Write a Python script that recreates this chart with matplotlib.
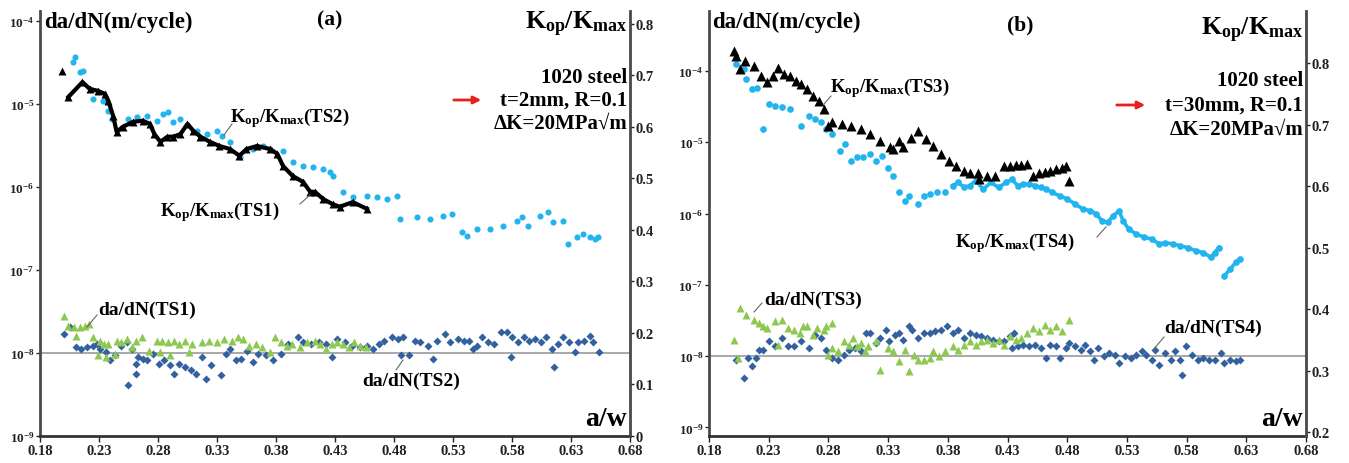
import matplotlib
matplotlib.use("Agg")
import matplotlib.pyplot as plt
import numpy as np
from matplotlib.lines import Line2D

plt.rcParams['font.family'] = ['Liberation Serif', 'DejaVu Serif']
plt.rcParams['font.weight'] = 'bold'
plt.rcParams['mathtext.fontset'] = 'custom'
plt.rcParams['mathtext.rm'] = 'Liberation Serif:bold'
plt.rcParams['mathtext.it'] = 'Liberation Serif:bold'
plt.rcParams['mathtext.bf'] = 'Liberation Serif:bold'
plt.rcParams['mathtext.default'] = 'bf'

# ---------------- panel (a) data ----------------
ts1_kop_x = [0.199, 0.204, 0.216, 0.222, 0.229, 0.235, 0.238, 0.242, 0.245, 0.250, 0.259, 0.267, 0.273,
             0.277, 0.282, 0.288, 0.293, 0.299, 0.305, 0.310, 0.316, 0.324, 0.332, 0.341, 0.349, 0.355,
             0.364, 0.375, 0.381, 0.386, 0.394, 0.403, 0.409, 0.413, 0.420, 0.428, 0.434, 0.445, 0.457]
ts1_kop_y = [0.709, 0.658, 0.687, 0.674, 0.670, 0.664, 0.650, 0.621, 0.590, 0.600, 0.610, 0.612, 0.606,
             0.586, 0.571, 0.581, 0.581, 0.586, 0.606, 0.592, 0.581, 0.571, 0.563, 0.557, 0.544, 0.557,
             0.563, 0.557, 0.548, 0.524, 0.505, 0.493, 0.474, 0.474, 0.460, 0.450, 0.445, 0.454, 0.441]

ts2_kop_x = [0.2097, 0.208, 0.2139, 0.2164, 0.2249, 0.2334, 0.2376, 0.2410, 0.2545, 0.2622, 0.2706, 0.2791,
             0.2842, 0.2884, 0.2927, 0.2986, 0.3130, 0.3215, 0.3299, 0.3342, 0.3409, 0.3494, 0.3604, 0.3689,
             0.3748, 0.3858, 0.3943, 0.4028, 0.4112, 0.4197, 0.4256, 0.4282, 0.4366, 0.4451, 0.4570, 0.4654,
             0.4739, 0.4824, 0.4849, 0.4993, 0.5103, 0.5213, 0.5290, 0.5374, 0.5417, 0.5501, 0.5612, 0.5722,
             0.5840, 0.5883, 0.5934, 0.6035, 0.6103, 0.6145, 0.6230, 0.6272, 0.6349, 0.6399, 0.6459, 0.6501,
             0.6526]
ts2_kop_y = [0.736, 0.726, 0.707, 0.709, 0.654, 0.650, 0.631, 0.616, 0.616, 0.619, 0.621, 0.612,
             0.625, 0.629, 0.610, 0.616, 0.592, 0.586, 0.592, 0.583, 0.571, 0.542, 0.557, 0.563,
             0.557, 0.553, 0.532, 0.524, 0.522, 0.518, 0.513, 0.505, 0.474, 0.464, 0.466, 0.464,
             0.460, 0.466, 0.421, 0.425, 0.421, 0.427, 0.431, 0.396, 0.388, 0.402, 0.402, 0.408,
             0.417, 0.425, 0.408, 0.427, 0.435, 0.416, 0.417, 0.373, 0.386, 0.392, 0.386, 0.382,
             0.386]

ts1_dadn_x = [0.2007, 0.204, 0.2087, 0.2135, 0.2183, 0.2215, 0.2103, 0.2247, 0.231, 0.2342, 0.2374, 0.2454,
              0.2294, 0.2358, 0.2438, 0.2486, 0.2534, 0.2614, 0.2661, 0.2582, 0.2725, 0.2789, 0.2837, 0.2885,
              0.2932, 0.298, 0.3028, 0.2821, 0.29, 0.306, 0.3092, 0.3172, 0.3236, 0.3299, 0.3363, 0.3427,
              0.3475, 0.3523, 0.357, 0.3634, 0.3682, 0.3746, 0.3794, 0.3842, 0.3889, 0.3937, 0.4001, 0.4065,
              0.4129, 0.4177, 0.4224, 0.4272, 0.432, 0.4368, 0.4416, 0.4464, 0.4512, 0.4559]
ts1_dadn_log = [-7.55, -7.67, -7.69, -7.69, -7.67, -7.65, -7.79, -7.81, -7.85, -7.89, -7.89, -7.85,
                -8.03, -8.05, -8.01, -7.87, -7.83, -7.85, -7.81, -7.93, -7.97, -7.85, -7.85, -7.87,
                -7.85, -7.89, -7.85, -7.99, -8.03, -7.99, -7.89, -7.87, -7.85, -7.87, -7.83, -7.85,
                -7.81, -7.83, -7.91, -7.89, -7.93, -7.99, -7.81, -7.87, -7.91, -7.89, -7.93, -7.87,
                -7.85, -7.89, -7.95, -7.89, -7.87, -7.89, -7.93, -7.87, -7.91, -7.93]

ts2_dadn_x = [0.2007, 0.2055, 0.2103, 0.2151, 0.2199, 0.2247, 0.2279, 0.231, 0.2358, 0.239, 0.2438, 0.2486,
              0.2534, 0.2582, 0.2614, 0.2629, 0.2677, 0.255, 0.2614, 0.2709, 0.2757, 0.2805, 0.2853, 0.29,
              0.2932, 0.298, 0.3028, 0.3076, 0.3124, 0.3172, 0.3204, 0.3252, 0.3331, 0.3379, 0.3411, 0.3459,
              0.3507, 0.3555, 0.3602, 0.365, 0.3714, 0.3778, 0.3842, 0.3905, 0.3985, 0.4033, 0.4097, 0.4161,
              0.4224, 0.4272, 0.432, 0.4384, 0.4448, 0.4512, 0.4575, 0.4623, 0.4671, 0.4719, 0.4783, 0.483,
              0.4878, 0.4862, 0.4926, 0.4974, 0.5022, 0.5086, 0.5134, 0.5166, 0.5229, 0.5277, 0.5341, 0.5389,
              0.5437, 0.5469, 0.55, 0.5548, 0.5596, 0.5644, 0.5708, 0.5756, 0.5804, 0.5788, 0.5851, 0.5899,
              0.5947, 0.5995, 0.6043, 0.6091, 0.6139, 0.6155, 0.6186, 0.6234, 0.6282, 0.633, 0.6362, 0.641,
              0.6457, 0.6489, 0.6537]
ts2_dadn_log = [-7.77, -7.69, -7.93, -7.95, -7.93, -7.91, -7.89, -7.95, -7.99, -8.09, -8.03, -7.91,
                -7.87, -7.95, -8.13, -8.05, -8.07, -8.39, -8.25, -8.09, -8.01, -8.13, -8.09, -8.15,
                -8.25, -8.13, -8.17, -8.21, -8.25, -8.05, -8.31, -8.15, -8.27, -8.01, -7.95, -8.09,
                -8.07, -7.97, -8.11, -8.01, -8.03, -8.09, -8.01, -7.89, -7.81, -7.87, -7.89, -7.87,
                -7.89, -8.05, -7.83, -7.87, -7.91, -7.93, -7.91, -7.95, -7.89, -7.85, -7.81, -7.83,
                -7.81, -8.03, -8.03, -7.85, -7.87, -7.91, -8.07, -7.85, -7.77, -7.87, -7.83, -7.85,
                -7.85, -7.95, -7.91, -7.81, -7.87, -7.89, -7.75, -7.75, -7.81, -8.05, -7.87, -7.81,
                -7.85, -7.83, -7.87, -7.81, -7.95, -8.17, -7.89, -7.81, -7.87, -7.99, -7.87, -7.85,
                -7.79, -7.87, -7.99]

# ---------------- panel (b) data ----------------
ts3_kop_x = [0.2013, 0.203, 0.2062, 0.2103, 0.2174, 0.2238, 0.2286, 0.2334, 0.2382, 0.243, 0.2478, 0.2526,
             0.2574, 0.2622, 0.267, 0.2719, 0.2767, 0.2799, 0.2831, 0.2911, 0.2991, 0.3071, 0.3151, 0.3231,
             0.3312, 0.3344, 0.3392, 0.3424, 0.3488, 0.3552, 0.3616, 0.368, 0.3744, 0.3808, 0.3872, 0.3936,
             0.3985, 0.4049, 0.4065, 0.4129, 0.4193, 0.4273, 0.4321, 0.4369, 0.4417, 0.4465, 0.4513, 0.4561,
             0.461, 0.4658, 0.4706, 0.4754, 0.4786, 0.4818]
ts3_kop_y = [0.820, 0.812, 0.790, 0.804, 0.796, 0.779, 0.769, 0.779, 0.793, 0.782, 0.779, 0.771,
             0.766, 0.758, 0.747, 0.739, 0.725, 0.698, 0.704, 0.701, 0.698, 0.693, 0.685, 0.674,
             0.663, 0.660, 0.674, 0.663, 0.679, 0.690, 0.676, 0.666, 0.652, 0.641, 0.633, 0.625,
             0.622, 0.622, 0.611, 0.617, 0.617, 0.632, 0.633, 0.634, 0.635, 0.636, 0.617, 0.621,
             0.623, 0.625, 0.628, 0.630, 0.633, 0.609]

ts4_kop_x = [0.203, 0.2094, 0.211, 0.2158, 0.2206, 0.2254, 0.2302, 0.235, 0.2414, 0.2478, 0.2574, 0.2638,
             0.2687, 0.2735, 0.2783, 0.2831, 0.2895, 0.2943, 0.2991, 0.3039, 0.3087, 0.3151, 0.3199, 0.3247,
             0.3296, 0.3344, 0.3392, 0.3472, 0.344, 0.3552, 0.36, 0.3648, 0.3712, 0.3776, 0.384, 0.3888,
             0.3936, 0.3985, 0.4033, 0.4097, 0.4161, 0.4225, 0.4289, 0.4337, 0.4385, 0.4433, 0.4481, 0.4529,
             0.4577, 0.4626, 0.4674, 0.4738, 0.4802, 0.4866, 0.493, 0.4994, 0.5042, 0.509, 0.5138, 0.5187,
             0.5235, 0.5267, 0.5315, 0.5379, 0.5443, 0.5507, 0.5571, 0.5619, 0.5683, 0.5747, 0.5811, 0.5875,
             0.5939, 0.6004, 0.6036, 0.6068, 0.6116, 0.6164, 0.6212, 0.6244]
ts4_kop_y = [0.798, 0.790, 0.774, 0.758, 0.760, 0.693, 0.733, 0.731, 0.728, 0.725, 0.698, 0.714,
             0.709, 0.704, 0.693, 0.685, 0.657, 0.668, 0.641, 0.647, 0.647, 0.652, 0.641, 0.649,
             0.630, 0.617, 0.590, 0.584, 0.576, 0.571, 0.584, 0.587, 0.590, 0.591, 0.601, 0.606,
             0.598, 0.601, 0.609, 0.595, 0.606, 0.598, 0.606, 0.611, 0.601, 0.603, 0.603, 0.601,
             0.598, 0.595, 0.590, 0.584, 0.579, 0.571, 0.563, 0.560, 0.555, 0.544, 0.541, 0.552,
             0.560, 0.544, 0.530, 0.522, 0.517, 0.514, 0.506, 0.508, 0.506, 0.503, 0.500, 0.495,
             0.492, 0.484, 0.492, 0.500, 0.454, 0.465, 0.476, 0.481]

ts3_dadn_x = [0.2013, 0.2046, 0.2062, 0.211, 0.2174, 0.2222, 0.2254, 0.2286, 0.235, 0.2382, 0.2414, 0.2462,
              0.251, 0.2558, 0.259, 0.2622, 0.267, 0.2703, 0.2767, 0.2783, 0.2831, 0.2799, 0.2831, 0.2879,
              0.2927, 0.2975, 0.3007, 0.3039, 0.3071, 0.3103, 0.3135, 0.3199, 0.3231, 0.3295, 0.3343, 0.3392,
              0.344, 0.3472, 0.352, 0.3552, 0.36, 0.3648, 0.368, 0.3728, 0.3776, 0.384, 0.3888, 0.3936,
              0.3984, 0.4033, 0.4081, 0.4129, 0.4177, 0.4225, 0.4273, 0.4321, 0.4369, 0.4417, 0.4465, 0.4513,
              0.4561, 0.461, 0.4658, 0.4706, 0.4754, 0.4818]
ts3_dadn_log = [-7.77, -8.02, -7.32, -7.42, -7.49, -7.53, -7.58, -7.60, -7.51, -7.84, -7.49, -7.60,
                -7.63, -7.67, -7.58, -7.58, -7.70, -7.60, -7.63, -7.58, -7.53, -7.98, -7.88, -7.93,
                -7.79, -7.84, -7.74, -7.86, -7.81, -7.93, -7.86, -7.79, -8.19, -7.88, -7.93, -8.07,
                -7.91, -8.21, -7.98, -8.05, -8.05, -8.02, -7.93, -8.00, -7.93, -7.86, -7.91, -7.84,
                -7.79, -7.84, -7.79, -7.77, -7.81, -7.77, -7.84, -7.72, -7.77, -7.74, -7.67, -7.60,
                -7.65, -7.56, -7.63, -7.58, -7.65, -7.49]

ts4_dadn_x = [0.203, 0.2094, 0.2126, 0.2158, 0.219, 0.2222, 0.2254, 0.2302, 0.235, 0.2414, 0.2462, 0.251,
              0.2574, 0.2639, 0.2687, 0.2735, 0.2783, 0.2831, 0.2879, 0.2927, 0.2975, 0.3023, 0.3071, 0.3119,
              0.3151, 0.3199, 0.3231, 0.3279, 0.3311, 0.3359, 0.3392, 0.3424, 0.3472, 0.3504, 0.3552, 0.36,
              0.3648, 0.3696, 0.3744, 0.3792, 0.384, 0.3888, 0.3936, 0.3984, 0.4033, 0.4081, 0.4129, 0.4177,
              0.4225, 0.4273, 0.4321, 0.4353, 0.4337, 0.4385, 0.4433, 0.4481, 0.4529, 0.4577, 0.4625, 0.4658,
              0.4706, 0.4738, 0.4786, 0.4818, 0.4866, 0.4914, 0.4946, 0.4994, 0.5026, 0.5058, 0.5106, 0.5154,
              0.5202, 0.5234, 0.5283, 0.5331, 0.5379, 0.5427, 0.5459, 0.5507, 0.5539, 0.5571, 0.5619, 0.5667,
              0.5699, 0.5747, 0.5763, 0.5795, 0.5843, 0.5892, 0.594, 0.5988, 0.6036, 0.6084, 0.6116, 0.6164,
              0.6212, 0.6244]
ts4_dadn_log = [-8.05, -8.30, -8.02, -8.14, -8.02, -7.91, -7.91, -7.79, -7.86, -7.74, -7.86, -7.86,
                -7.79, -7.88, -7.70, -7.74, -7.91, -8.02, -8.05, -7.98, -7.91, -7.88, -7.93, -7.67,
                -7.67, -7.81, -7.74, -7.63, -7.79, -7.70, -7.67, -7.77, -7.58, -7.63, -7.74, -7.67,
                -7.67, -7.65, -7.63, -7.58, -7.67, -7.63, -7.74, -7.67, -7.70, -7.72, -7.74, -7.77,
                -7.79, -7.79, -7.72, -7.67, -7.88, -7.86, -7.84, -7.86, -7.84, -7.88, -8.02, -7.84,
                -7.86, -8.02, -7.88, -7.81, -7.86, -7.91, -7.84, -7.93, -8.05, -7.88, -8.00, -7.95,
                -7.98, -8.09, -8.00, -8.02, -7.98, -7.93, -7.98, -8.05, -7.91, -8.12, -7.95, -8.05,
                -7.93, -8.05, -8.26, -7.86, -7.98, -8.05, -8.02, -8.05, -8.05, -7.95, -8.09, -8.05,
                -8.07, -8.05]

xticks = [0.18, 0.23, 0.28, 0.33, 0.38, 0.43, 0.48, 0.53, 0.58, 0.63, 0.68]
log_ticks = [-9, -8, -7, -6, -5, -4]
right_ticks_a = [0, 0.1, 0.2, 0.3, 0.4, 0.5, 0.6, 0.7, 0.8]
right_ticks_b = [0.2, 0.3, 0.4, 0.5, 0.6, 0.7, 0.8]

# colours
C_BLACK = '#000000'
C_CYAN = '#22b4ee'
C_GREEN = '#8dc850'
C_BLUE = '#33609e'
SPINE = '#4a4a4a'

W, H = 1349, 464
fig = plt.figure(figsize=(W / 100, H / 100), dpi=100)


def fx(px):
    return px / W


def fy(py):
    return 1 - py / H


def setup(ax, ax2, ylog, yright, rticks):
    ax.set_yscale('log')
    ax.set_xlim(0.18, 0.68)
    ax.set_ylim(10 ** ylog[0], 10 ** ylog[1])
    ax.set_xticks(xticks)
    ax.set_xticklabels(['%.2f' % v for v in xticks], fontsize=10.5, fontweight='bold')
    ax.set_yticks([10.0 ** k for k in log_ticks])
    ax.set_yticklabels([r'$10^{%d}$' % k for k in log_ticks], fontsize=9.5)
    ax.yaxis.set_minor_locator(matplotlib.ticker.NullLocator())
    ax.tick_params(axis='x', direction='out', length=4, width=1, pad=2, colors='#222222')
    ax.tick_params(axis='y', direction='out', length=3, width=1, pad=1, colors='#222222')
    ax.spines['top'].set_visible(False)
    ax2.spines['top'].set_visible(False)
    ax.spines['left'].set_color(SPINE)
    ax.spines['left'].set_linewidth(2)
    ax.spines['bottom'].set_color('#333333')
    ax.spines['bottom'].set_linewidth(2)
    ax2.spines['right'].set_color(SPINE)
    ax2.spines['right'].set_linewidth(2)
    ax2.spines['left'].set_visible(False)
    ax2.spines['bottom'].set_visible(False)
    ax2.set_ylim(*yright)
    ax2.set_yticks(rticks)
    ax2.set_yticklabels(['%g' % v for v in rticks], fontsize=10.5, fontweight='bold')
    ax2.tick_params(axis='y', direction='out', length=3, width=1, pad=1, colors='#222222')
    ax.axhline(1e-8, color='#9a9a9a', lw=1.2, zorder=0)
    ax.patch.set_visible(False)


# ---------- panel (a) ----------
axa = fig.add_axes([fx(40), fy(437), 590 / W, 425 / H])
axa2 = axa.twinx()
setup(axa, axa2, (-9, -3.88), (0, 0.825), right_ticks_a)

axa.plot(ts2_dadn_x, 10 ** np.array(ts2_dadn_log), 'D', ms=4.4, color=C_BLUE, mec='none', zorder=3)
axa.plot(ts1_dadn_x, 10 ** np.array(ts1_dadn_log), '^', ms=6, color=C_GREEN, mec='none', zorder=4)
axa2.plot(ts2_kop_x, ts2_kop_y, 'o', ms=4.4, color=C_CYAN, mec='none', zorder=3)
axa2.plot(ts1_kop_x[1:], ts1_kop_y[1:], '-', lw=3, color=C_BLACK, zorder=4)
axa2.plot(ts1_kop_x, ts1_kop_y, '^', ms=6, color=C_BLACK, mec='none', zorder=4)

# ---------- panel (b) ----------
axb = fig.add_axes([fx(709), fy(437), 597 / W, 425 / H])
axb2 = axb.twinx()
setup(axb, axb2, (-9.12, -3.16), (0.1935, 0.885), right_ticks_b)

axb.plot(ts4_dadn_x, 10 ** np.array(ts4_dadn_log), 'D', ms=4.4, color=C_BLUE, mec='none', zorder=3)
axb.plot(ts3_dadn_x, 10 ** np.array(ts3_dadn_log), '^', ms=6, color=C_GREEN, mec='none', zorder=4)
axb2.plot(ts4_kop_x[34:76], ts4_kop_y[34:76], '-', lw=2.6, color=C_CYAN, zorder=3)
axb2.plot(ts4_kop_x[76:], ts4_kop_y[76:], '-', lw=2.6, color=C_CYAN, zorder=3)
axb2.plot(ts4_kop_x, ts4_kop_y, 'o', ms=4.8, color=C_CYAN, mec='none', zorder=3)
axb2.plot(ts3_kop_x, ts3_kop_y, '^', ms=6.5, color=C_BLACK, mec='none', zorder=4)


# ---------- texts ----------
def ftext(px, py, s, size, ha='left', va='center', **kw):
    fig.text(fx(px), fy(py), s, fontsize=size, ha=ha, va=va, fontweight='bold', **kw)


def leader(p1, p2):
    fig.add_artist(Line2D([fx(p1[0]), fx(p2[0])], [fy(p1[1]), fy(p2[1])],
                          color='#666666', lw=0.8, transform=fig.transFigure))


def red_arrow(x0, x1, y):
    fig.add_artist(matplotlib.patches.FancyArrowPatch((fx(x0), fy(y)), (fx(x1), fy(y)),
                                                      transform=fig.transFigure, arrowstyle='-|>',
                                                      mutation_scale=11, color='#e8201c', lw=2))


KOP = r'K$_{op}$/K$_{max}$'

# panel a
ftext(44, 22, 'da/dN(m/cycle)', 16.5)
ftext(330, 20, '(a)', 15.5, ha='center')
ftext(627, 24, KOP, 18.5, ha='right')
ftext(627, 78, '1020 steel', 15, ha='right')
ftext(627, 101, 't=2mm, R=0.1', 15, ha='right')
ftext(627, 124, 'ΔK=20MPa√m', 15, ha='right')
red_arrow(451, 484, 101)
ftext(627, 420, 'a/w', 20, ha='right')
ftext(230, 118, KOP + '(TS2)', 13.5)
leader((232, 125), (224, 136))
ftext(160, 212, KOP + '(TS1)', 13.5)
leader((300, 205), (310, 196))
ftext(98, 310, 'da/dN(TS1)', 14)
leader((97, 316), (87, 328))
ftext(362, 381, 'da/dN(TS2)', 14)
leader((396, 371), (403, 361))

# panel b
ftext(712, 22, 'da/dN(m/cycle)', 16.5)
ftext(1020, 25, '(b)', 15.5, ha='center')
ftext(1303, 30, KOP, 18.5, ha='right')
ftext(1303, 81, '1020 steel', 15, ha='right')
ftext(1303, 106, 't=30mm, R=0.1', 15, ha='right')
ftext(1303, 130, 'ΔK=20MPa√m', 15, ha='right')
red_arrow(1114, 1148, 106)
ftext(1303, 420, 'a/w', 20, ha='right')
ftext(830, 88, KOP + '(TS3)', 13.5)
leader((831, 97), (824, 105))
ftext(955, 243, KOP + '(TS4)', 13.5)
leader((1097, 238), (1106, 228))
ftext(764, 300, 'da/dN(TS3)', 14)
leader((762, 304), (754, 313))
ftext(1164, 328, 'da/dN(TS4)', 14)
leader((1164, 338), (1153, 351))

fig.savefig('out.png', dpi=100)
